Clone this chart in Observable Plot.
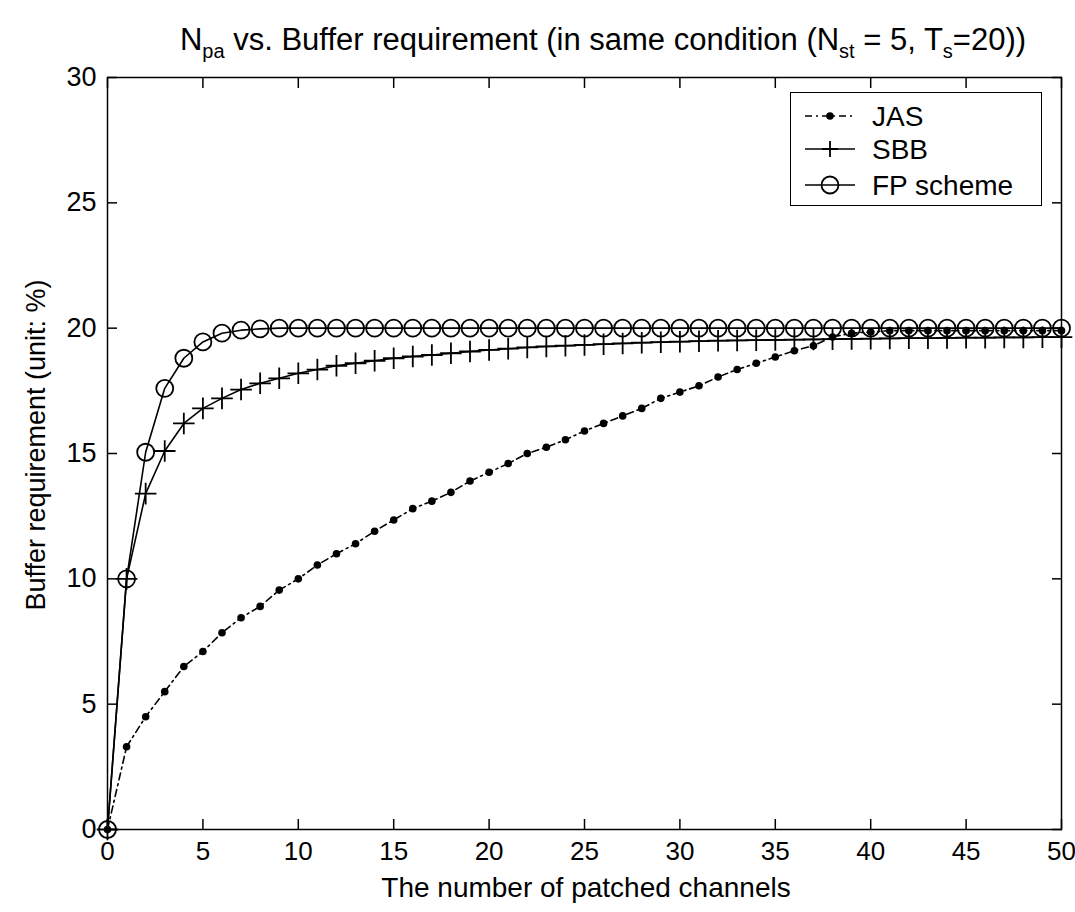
<!DOCTYPE html>
<html>
<head>
<meta charset="utf-8">
<script src="https://cdn.jsdelivr.net/npm/d3@7"></script>
<script src="https://cdn.jsdelivr.net/npm/@observablehq/plot@0.6"></script>
<style>
  html, body { margin: 0; padding: 0; background: #fff; overflow: hidden; }
  #wrap { position: relative; width: 1075px; height: 912px; font-family: "Liberation Sans", Arial, sans-serif; color: #000; }
  #title { position: absolute; top: 22px; left: 603px; transform: translateX(-50%); font-size: 31px; white-space: nowrap; line-height: 35px; }
  #title sub { font-size: 20px; vertical-align: -8px; line-height: 0; }
  #xlabel { position: absolute; left: 586px; top: 872px; transform: translateX(-50%); font-size: 28px; white-space: nowrap; line-height: 32px; }
  #ylabel { position: absolute; left: 36px; top: 445px; transform: translate(-50%, -50%) rotate(-90deg); font-size: 27px; white-space: nowrap; line-height: 31px; }
  #legend { position: absolute; left: 790px; top: 92px; width: 252px; height: 114px; border: 1.5px solid #000; background: #fff; box-sizing: border-box; }
</style>
</head>
<body>
<div id="wrap">
  <div id="chart"></div>
  <div id="title">N<sub>pa</sub> vs. Buffer requirement (in same condition (N<sub>st</sub> = 5, T<sub>s</sub>=20))</div>
  <div id="xlabel">The number of patched channels</div>
  <div id="ylabel">Buffer requirement (unit: %)</div>
  <div id="legend"></div>
</div>
<script>
const channels = [0,1,2,3,4,5,6,7,8,9,10,11,12,13,14,15,16,17,18,19,20,21,22,23,24,25,26,27,28,29,30,31,32,33,34,35,36,37,38,39,40,41,42,43,44,45,46,47,48,49,50];
const jas = [0,3.3,4.5,5.5,6.5,7.1,7.85,8.45,8.9,9.55,10.0,10.55,11.0,11.4,11.9,12.35,12.8,13.1,13.45,13.9,14.25,14.6,15.0,15.25,15.55,15.9,16.2,16.5,16.8,17.2,17.45,17.7,18.05,18.35,18.6,18.85,19.1,19.3,19.65,19.8,19.85,19.9,19.9,19.9,19.9,19.9,19.9,19.9,19.9,19.9,19.9];
const sbb = [0,10,13.4,15.1,16.2,16.8,17.2,17.55,17.8,18.0,18.2,18.35,18.5,18.6,18.7,18.8,18.87,18.93,19.0,19.07,19.13,19.18,19.23,19.27,19.3,19.33,19.36,19.39,19.42,19.44,19.46,19.48,19.5,19.51,19.52,19.53,19.54,19.55,19.56,19.57,19.58,19.59,19.6,19.6,19.61,19.62,19.62,19.63,19.63,19.64,19.64];
const fp = [0,10,15.05,17.6,18.8,19.45,19.8,19.92,19.97,20,20,20,20,20,20,20,20,20,20,20,20,20,20,20,20,20,20,20,20,20,20,20,20,20,20,20,20,20,20,20,20,20,20,20,20,20,20,20,20,20,20];
const xTicks = [0,5,10,15,20,25,30,35,40,45,50];
const yTicks = [0,5,10,15,20,25,30];
const seriesNames = ["JAS","SBB","FP scheme"];

const rows = (vals) => channels.map((c, i) => ({x: c, y: vals[i]}));
const jasRows = rows(jas), sbbRows = rows(sbb), fpRows = rows(fp);

const FONT = '"Liberation Sans", Arial, sans-serif';

const chart = Plot.plot({
  width: 1075,
  height: 912,
  marginLeft: 107,
  marginRight: 14,
  marginTop: 77,
  marginBottom: 83,
  style: {fontFamily: FONT, fontSize: "27px", color: "#000", background: "transparent", overflow: "visible"},
  x: {domain: [0, 50]},
  y: {domain: [0, 30]},
  marks: [
    Plot.frame({stroke: "#000", strokeWidth: 1.5}),
    Plot.axisX({anchor: "bottom", ticks: xTicks, tickSize: -10, tickPadding: 22, strokeWidth: 1.5, label: null, fontSize: 26}),
    Plot.axisX({anchor: "top", ticks: xTicks, tickSize: -10, tickFormat: () => "", label: null, strokeWidth: 1.5}),
    Plot.axisY({anchor: "left", ticks: yTicks, tickSize: -10, tickPadding: 21, strokeWidth: 1.5, label: null, fontSize: 27}),
    Plot.axisY({anchor: "right", ticks: yTicks, tickSize: -10, tickFormat: () => "", label: null, strokeWidth: 1.5}),
    Plot.line(jasRows, {x: "x", y: "y", stroke: "#000", strokeWidth: 1.6, strokeDasharray: "7,4,2,4"}),
    Plot.dot(jasRows, {x: "x", y: "y", r: 3.8, fill: "#000", stroke: "none"}),
    Plot.line(sbbRows, {x: "x", y: "y", stroke: "#000", strokeWidth: 1.6}),
    Plot.dot(sbbRows, {x: "x", y: "y", symbol: "plus", r: 7, stroke: "#000", strokeWidth: 1.8}),
    Plot.line(fpRows, {x: "x", y: "y", stroke: "#000", strokeWidth: 1.6}),
    Plot.dot(fpRows, {x: "x", y: "y", r: 8.5, stroke: "#000", strokeWidth: 1.8, fill: "none"})
  ]
});
document.getElementById("chart").appendChild(chart);

// Legend (non-data key)
const leg = d3.select("#legend").append("svg").attr("width", 250).attr("height", 112)
  .style("font-family", FONT).style("font-size", "28px");
const rowsY = [23, 56, 92];
seriesNames.forEach((name, i) => {
  const g = leg.append("g").attr("transform", `translate(0,${rowsY[i]})`);
  const line = g.append("line").attr("x1", 14).attr("x2", 64).attr("y1", 0).attr("y2", 0)
    .attr("stroke", "#000").attr("stroke-width", 1.6);
  if (i === 0) {
    line.attr("stroke-dasharray", "7,4,2,4");
    g.append("circle").attr("cx", 39).attr("cy", 0).attr("r", 3.8).attr("fill", "#000");
  } else if (i === 1) {
    g.append("path").attr("d", "M39,-8V8M31,0H47").attr("stroke", "#000").attr("stroke-width", 1.8);
  } else {
    g.append("circle").attr("cx", 39).attr("cy", 0).attr("r", 8.5).attr("fill", "none").attr("stroke", "#000").attr("stroke-width", 1.8);
  }
  g.append("text").attr("x", 81).attr("y", 10).attr("fill", "#000").text(name);
});
</script>
</body>
</html>
